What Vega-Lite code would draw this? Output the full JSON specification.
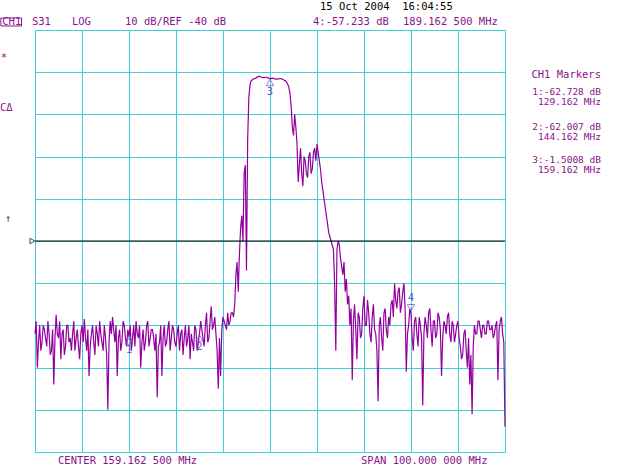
{
  "$schema": "https://vega.github.io/schema/vega-lite/v6.json",
  "width": 470,
  "height": 422,
  "autosize": {"type": "none"},
  "padding": {"left": 35, "top": 30, "right": 135, "bottom": 13},
  "background": "white",
  "config": {"view": {"stroke": "#3fd0d8", "strokeWidth": 1}, "font": "DejaVu Sans Mono", "text": {"font": "DejaVu Sans Mono", "fontSize": 10.5, "color": "#8a138a", "align": "left", "baseline": "middle"}},
  "datasets": {
    "trace": [
      {"f":109.16,"d":-62},{"f":109.41,"d":-59},{"f":109.66,"d":-70},{"f":109.91,"d":-64},
      {"f":110.16,"d":-60},{"f":110.41,"d":-66},{"f":110.66,"d":-64},{"f":110.91,"d":-60},
      {"f":111.16,"d":-61},{"f":111.41,"d":-63},{"f":111.66,"d":-65},{"f":111.91,"d":-59},
      {"f":112.16,"d":-62},{"f":112.41,"d":-67},{"f":112.66,"d":-66},{"f":112.91,"d":-61},
      {"f":113.16,"d":-74},{"f":113.41,"d":-63},{"f":113.66,"d":-57.5},{"f":113.91,"d":-62},
      {"f":114.16,"d":-63},{"f":114.41,"d":-59},{"f":114.66,"d":-68},{"f":114.91,"d":-62},
      {"f":115.16,"d":-61},{"f":115.41,"d":-67},{"f":115.66,"d":-65},{"f":115.91,"d":-60},
      {"f":116.16,"d":-60},{"f":116.41,"d":-64},{"f":116.66,"d":-63},{"f":116.91,"d":-66},
      {"f":117.16,"d":-62},{"f":117.41,"d":-59},{"f":117.66,"d":-66},{"f":117.91,"d":-63},
      {"f":118.16,"d":-61},{"f":118.41,"d":-65},{"f":118.66,"d":-68},{"f":118.91,"d":-62},
      {"f":119.16,"d":-60},{"f":119.41,"d":-64},{"f":119.66,"d":-58.5},{"f":119.91,"d":-63},
      {"f":120.16,"d":-66},{"f":120.41,"d":-61},{"f":120.66,"d":-72},{"f":120.91,"d":-65},
      {"f":121.16,"d":-62},{"f":121.41,"d":-60},{"f":121.66,"d":-64},{"f":121.91,"d":-67},
      {"f":122.16,"d":-60},{"f":122.41,"d":-62},{"f":122.66,"d":-65},{"f":122.91,"d":-59},
      {"f":123.16,"d":-62},{"f":123.41,"d":-64},{"f":123.66,"d":-66},{"f":123.91,"d":-60},
      {"f":124.16,"d":-63},{"f":124.41,"d":-67},{"f":124.66,"d":-80},{"f":124.91,"d":-64},
      {"f":125.16,"d":-59},{"f":125.41,"d":-62},{"f":125.66,"d":-58},{"f":125.91,"d":-61},
      {"f":126.16,"d":-64},{"f":126.41,"d":-60},{"f":126.66,"d":-72},{"f":126.91,"d":-63},
      {"f":127.16,"d":-61},{"f":127.41,"d":-66},{"f":127.66,"d":-64},{"f":127.91,"d":-59},
      {"f":128.16,"d":-60},{"f":128.41,"d":-63},{"f":128.66,"d":-65},{"f":128.91,"d":-61},
      {"f":129.16,"d":-62.7},{"f":129.41,"d":-60},{"f":129.66,"d":-66},{"f":129.91,"d":-63},
      {"f":130.16,"d":-60},{"f":130.41,"d":-65},{"f":130.66,"d":-59},{"f":130.91,"d":-62},
      {"f":131.16,"d":-63},{"f":131.41,"d":-60},{"f":131.66,"d":-70},{"f":131.91,"d":-64},
      {"f":132.16,"d":-61},{"f":132.41,"d":-66},{"f":132.66,"d":-64},{"f":132.91,"d":-60},
      {"f":133.16,"d":-59},{"f":133.41,"d":-65},{"f":133.66,"d":-63},{"f":133.91,"d":-61},
      {"f":134.16,"d":-61},{"f":134.41,"d":-63},{"f":134.66,"d":-66},{"f":134.91,"d":-62},
      {"f":135.16,"d":-77},{"f":135.41,"d":-65},{"f":135.66,"d":-64},{"f":135.91,"d":-60},
      {"f":136.16,"d":-72},{"f":136.41,"d":-63},{"f":136.66,"d":-60},{"f":136.91,"d":-65},
      {"f":137.16,"d":-64},{"f":137.41,"d":-61},{"f":137.66,"d":-59},{"f":137.91,"d":-66},
      {"f":138.16,"d":-63},{"f":138.41,"d":-60},{"f":138.66,"d":-61},{"f":138.91,"d":-64},
      {"f":139.16,"d":-65},{"f":139.41,"d":-62},{"f":139.66,"d":-60},{"f":139.91,"d":-66},
      {"f":140.16,"d":-62},{"f":140.41,"d":-61},{"f":140.66,"d":-67},{"f":140.91,"d":-63},
      {"f":141.16,"d":-60},{"f":141.41,"d":-65},{"f":141.66,"d":-63},{"f":141.91,"d":-60},
      {"f":142.16,"d":-68},{"f":142.41,"d":-62},{"f":142.66,"d":-64},{"f":142.91,"d":-66},
      {"f":143.16,"d":-60},{"f":143.41,"d":-61},{"f":143.66,"d":-66},{"f":143.91,"d":-64},
      {"f":144.16,"d":-62},{"f":144.41,"d":-59},{"f":144.66,"d":-61},{"f":144.91,"d":-63},
      {"f":145.16,"d":-65},{"f":145.41,"d":-60},{"f":145.66,"d":-57},{"f":145.91,"d":-64},
      {"f":146.16,"d":-63},{"f":146.41,"d":-59},{"f":146.66,"d":-55.5},{"f":146.91,"d":-61},
      {"f":147.16,"d":-60},{"f":147.41,"d":-58},{"f":147.66,"d":-62},{"f":147.91,"d":-66},
      {"f":148.16,"d":-75},{"f":148.41,"d":-63},{"f":148.66,"d":-72},{"f":148.91,"d":-61},
      {"f":149.16,"d":-58},{"f":149.41,"d":-59},{"f":149.66,"d":-60},{"f":149.91,"d":-61},
      {"f":150.16,"d":-57},{"f":150.41,"d":-60},{"f":150.66,"d":-59},{"f":150.91,"d":-57},
      {"f":151.16,"d":-57},{"f":151.41,"d":-58},{"f":151.66,"d":-55},{"f":151.91,"d":-48},
      {"f":152.16,"d":-45},{"f":152.41,"d":-52},{"f":152.66,"d":-43},{"f":152.91,"d":-37},
      {"f":153.16,"d":-34},{"f":153.41,"d":-40},{"f":153.66,"d":-24},{"f":153.91,"d":-22},
      {"f":154.16,"d":-47},{"f":154.41,"d":-16},{"f":154.66,"d":-6},{"f":154.91,"d":-3},
      {"f":155.16,"d":-2},{"f":155.41,"d":-1.8},{"f":155.66,"d":-1.6},{"f":155.91,"d":-1.5},
      {"f":156.16,"d":-1.4},{"f":156.41,"d":-1.2},{"f":156.66,"d":-1.0},{"f":156.91,"d":-1.0},
      {"f":157.16,"d":-1.1},{"f":157.41,"d":-1.2},{"f":157.66,"d":-1.3},{"f":157.91,"d":-1.3},
      {"f":158.16,"d":-1.2},{"f":158.41,"d":-1.2},{"f":158.66,"d":-1.3},{"f":158.91,"d":-1.4},
      {"f":159.16,"d":-1.5},{"f":159.41,"d":-1.5},{"f":159.66,"d":-1.4},{"f":159.91,"d":-1.5},
      {"f":160.16,"d":-1.6},{"f":160.41,"d":-1.6},{"f":160.66,"d":-1.7},{"f":160.91,"d":-1.6},
      {"f":161.16,"d":-1.5},{"f":161.41,"d":-1.5},{"f":161.66,"d":-1.6},{"f":161.91,"d":-1.7},
      {"f":162.16,"d":-1.9},{"f":162.41,"d":-2.0},{"f":162.66,"d":-2.3},{"f":162.91,"d":-2.8},
      {"f":163.16,"d":-3.5},{"f":163.41,"d":-5},{"f":163.66,"d":-8},{"f":163.91,"d":-13},
      {"f":164.16,"d":-15},{"f":164.41,"d":-10},{"f":164.66,"d":-13},{"f":164.91,"d":-17},
      {"f":165.16,"d":-26},{"f":165.41,"d":-22},{"f":165.66,"d":-18},{"f":165.91,"d":-24},
      {"f":166.16,"d":-27},{"f":166.41,"d":-20},{"f":166.66,"d":-21},{"f":166.91,"d":-24},
      {"f":167.16,"d":-25},{"f":167.41,"d":-20},{"f":167.66,"d":-19},{"f":167.91,"d":-24},
      {"f":168.16,"d":-23},{"f":168.41,"d":-19},{"f":168.66,"d":-18},{"f":168.91,"d":-21},
      {"f":169.16,"d":-17},{"f":169.41,"d":-19},{"f":169.66,"d":-21},{"f":169.91,"d":-23},
      {"f":170.16,"d":-26},{"f":170.41,"d":-28},{"f":170.66,"d":-30},{"f":170.91,"d":-32},
      {"f":171.16,"d":-34},{"f":171.41,"d":-36},{"f":171.66,"d":-38},{"f":171.91,"d":-39},
      {"f":172.16,"d":-40},{"f":172.41,"d":-41},{"f":172.66,"d":-42},{"f":172.91,"d":-50},
      {"f":173.16,"d":-66},{"f":173.41,"d":-42},{"f":173.66,"d":-40},{"f":173.91,"d":-41},
      {"f":174.16,"d":-44},{"f":174.41,"d":-46},{"f":174.66,"d":-48},{"f":174.91,"d":-45},
      {"f":175.16,"d":-52},{"f":175.41,"d":-49},{"f":175.66,"d":-55},{"f":175.91,"d":-53},
      {"f":176.16,"d":-60},{"f":176.41,"d":-56},{"f":176.66,"d":-73},{"f":176.91,"d":-59},
      {"f":177.16,"d":-55},{"f":177.41,"d":-61},{"f":177.66,"d":-68},{"f":177.91,"d":-57},
      {"f":178.16,"d":-58},{"f":178.41,"d":-63},{"f":178.66,"d":-62},{"f":178.91,"d":-56},
      {"f":179.16,"d":-53},{"f":179.41,"d":-60},{"f":179.66,"d":-60},{"f":179.91,"d":-54},
      {"f":180.16,"d":-57},{"f":180.41,"d":-62},{"f":180.66,"d":-64},{"f":180.91,"d":-58},
      {"f":181.16,"d":-55},{"f":181.41,"d":-61},{"f":181.66,"d":-62},{"f":181.91,"d":-66},
      {"f":182.16,"d":-78},{"f":182.41,"d":-60},{"f":182.66,"d":-58},{"f":182.91,"d":-63},
      {"f":183.16,"d":-66},{"f":183.41,"d":-57},{"f":183.66,"d":-56},{"f":183.91,"d":-61},
      {"f":184.16,"d":-63},{"f":184.41,"d":-58},{"f":184.66,"d":-60},{"f":184.91,"d":-55},
      {"f":185.16,"d":-54},{"f":185.41,"d":-58},{"f":185.66,"d":-50},{"f":185.91,"d":-54},
      {"f":186.16,"d":-56},{"f":186.41,"d":-52},{"f":186.66,"d":-51},{"f":186.91,"d":-57},
      {"f":187.16,"d":-55},{"f":187.41,"d":-52},{"f":187.66,"d":-50},{"f":187.91,"d":-56},
      {"f":188.16,"d":-71},{"f":188.41,"d":-62},{"f":188.66,"d":-60},{"f":188.91,"d":-56},
      {"f":189.16,"d":-57.2},{"f":189.41,"d":-63},{"f":189.66,"d":-66},{"f":189.91,"d":-59},
      {"f":190.16,"d":-58},{"f":190.41,"d":-62},{"f":190.66,"d":-65},{"f":190.91,"d":-58},
      {"f":191.16,"d":-60},{"f":191.41,"d":-63},{"f":191.66,"d":-79},{"f":191.91,"d":-62},
      {"f":192.16,"d":-58},{"f":192.41,"d":-60},{"f":192.66,"d":-63},{"f":192.91,"d":-57},
      {"f":193.16,"d":-56},{"f":193.41,"d":-61},{"f":193.66,"d":-65},{"f":193.91,"d":-59},
      {"f":194.16,"d":-59},{"f":194.41,"d":-63},{"f":194.66,"d":-62},{"f":194.91,"d":-57},
      {"f":195.16,"d":-58},{"f":195.41,"d":-61},{"f":195.66,"d":-72},{"f":195.91,"d":-63},
      {"f":196.16,"d":-59},{"f":196.41,"d":-60},{"f":196.66,"d":-62},{"f":196.91,"d":-58},
      {"f":197.16,"d":-57},{"f":197.41,"d":-62},{"f":197.66,"d":-64},{"f":197.91,"d":-59},
      {"f":198.16,"d":-60},{"f":198.41,"d":-64},{"f":198.66,"d":-62},{"f":198.91,"d":-60},
      {"f":199.16,"d":-59},{"f":199.41,"d":-63},{"f":199.66,"d":-65},{"f":199.91,"d":-68},
      {"f":200.16,"d":-67},{"f":200.41,"d":-62},{"f":200.66,"d":-61},{"f":200.91,"d":-66},
      {"f":201.16,"d":-70},{"f":201.41,"d":-63},{"f":201.66,"d":-74},{"f":201.91,"d":-67},
      {"f":202.16,"d":-81},{"f":202.41,"d":-65},{"f":202.66,"d":-60},{"f":202.91,"d":-62},
      {"f":203.16,"d":-62},{"f":203.41,"d":-59},{"f":203.66,"d":-59},{"f":203.91,"d":-61},
      {"f":204.16,"d":-63},{"f":204.41,"d":-60},{"f":204.66,"d":-60},{"f":204.91,"d":-62},
      {"f":205.16,"d":-62},{"f":205.41,"d":-59},{"f":205.66,"d":-59},{"f":205.91,"d":-61},
      {"f":206.16,"d":-61},{"f":206.41,"d":-60},{"f":206.66,"d":-63},{"f":206.91,"d":-62},
      {"f":207.16,"d":-60},{"f":207.41,"d":-59},{"f":207.66,"d":-73},{"f":207.91,"d":-61},
      {"f":208.16,"d":-59},{"f":208.41,"d":-58},{"f":208.66,"d":-62},{"f":208.91,"d":-64},
      {"f":209.16,"d":-84}
    ],
    "markers": [
      {"m":"1","f":129.1625,"d":-62.728},
      {"m":"2","f":144.1625,"d":-62.007},
      {"m":"3","f":159.1625,"d":-1.5008},
      {"m":"4","f":189.1625,"d":-57.233}
    ]
  },
  "layer": [
    {
      "data": {"name": "trace"},
      "mark": {"type": "line", "color": "#9400a0", "strokeWidth": 1.2},
      "encoding": {
        "x": {"field": "f", "type": "quantitative", "scale": {"domain": [109.1625, 209.1625], "nice": false, "zero": false},
              "axis": {"values": [109.1625,119.1625,129.1625,139.1625,149.1625,159.1625,169.1625,179.1625,189.1625,199.1625,209.1625], "grid": true, "gridColor": "#3fd0d8", "gridOpacity": 1, "labels": false, "ticks": false, "domain": false, "title": null}},
        "y": {"field": "d", "type": "quantitative", "scale": {"domain": [-90, 10], "nice": false, "zero": false},
              "axis": {"values": [-90,-80,-70,-60,-50,-40,-30,-20,-10,0,10], "grid": true, "gridColor": "#3fd0d8", "gridOpacity": 1, "labels": false, "ticks": false, "domain": false, "title": null}}
      }
    },
    {
      "data": {"values": [{}]},
      "mark": {"type": "rule", "color": "black", "strokeWidth": 1},
      "encoding": {"y": {"datum": -40}}
    },
    {
      "data": {"values": [{}]},
      "mark": {"type": "point", "shape": "triangle-right", "filled": false, "color": "black", "size": 30, "strokeWidth": 1},
      "encoding": {"x": {"datum": 108.6}, "y": {"datum": -40}}
    },
    {
      "data": {"name": "markers"},
      "transform": [{"filter": "datum.m != '4'"}],
      "layer": [
        {"mark": {"type": "point", "shape": "triangle-up", "filled": false, "color": "#6a4fc0", "size": 55, "strokeWidth": 1, "yOffset": 4},
         "encoding": {"x": {"field": "f", "type": "quantitative"}, "y": {"field": "d", "type": "quantitative"}}},
        {"mark": {"type": "text", "color": "#6a4fc0", "align": "center", "fontSize": 10, "yOffset": 13},
         "encoding": {"x": {"field": "f", "type": "quantitative"}, "y": {"field": "d", "type": "quantitative"}, "text": {"field": "m"}}}
      ]
    },
    {
      "data": {"name": "markers"},
      "transform": [{"filter": "datum.m == '4'"}],
      "layer": [
        {"mark": {"type": "point", "shape": "triangle-down", "filled": false, "color": "#6a4fc0", "size": 55, "strokeWidth": 1, "yOffset": -6},
         "encoding": {"x": {"field": "f", "type": "quantitative"}, "y": {"field": "d", "type": "quantitative"}}},
        {"mark": {"type": "text", "color": "#6a4fc0", "align": "center", "fontSize": 10, "yOffset": -16},
         "encoding": {"x": {"field": "f", "type": "quantitative"}, "y": {"field": "d", "type": "quantitative"}, "text": {"field": "m"}}}
      ]
    },
    {
      "data": {"values": [{}]},
      "mark": {"type": "rect", "fill": null, "fillOpacity": 0, "stroke": "#8a138a", "strokeWidth": 1},
      "encoding": {"x": {"datum": 101.9}, "x2": {"datum": 106.3}, "y": {"datum": 12.84}, "y2": {"datum": 10.95}}
    },
    {"data": {"values": [{}]}, "mark": {"type": "text"}, "encoding": {"x": {"datum": 102.2}, "y": {"datum": 11.9}, "text": {"value": "CH1"}}},
    {"data": {"values": [{}]}, "mark": {"type": "text"}, "encoding": {"x": {"datum": 108.52}, "y": {"datum": 11.9}, "text": {"value": "S31"}}},
    {"data": {"values": [{}]}, "mark": {"type": "text"}, "encoding": {"x": {"datum": 117.03}, "y": {"datum": 11.9}, "text": {"value": "LOG"}}},
    {"data": {"values": [{}]}, "mark": {"type": "text"}, "encoding": {"x": {"datum": 128.31}, "y": {"datum": 11.9}, "text": {"value": "10 dB/REF -40 dB"}}},
    {"data": {"values": [{}]}, "mark": {"type": "text"}, "encoding": {"x": {"datum": 168.31}, "y": {"datum": 11.9}, "text": {"value": "4:-57.233 dB"}}},
    {"data": {"values": [{}]}, "mark": {"type": "text"}, "encoding": {"x": {"datum": 187.46}, "y": {"datum": 11.9}, "text": {"value": "189.162 500 MHz"}}},
    {"data": {"values": [{}]}, "mark": {"type": "text", "color": "black"}, "encoding": {"x": {"datum": 169.8}, "y": {"datum": 15.5}, "text": {"value": "15 Oct 2004\u00a0\u00a016:04:55"}}},
    {"data": {"values": [{}]}, "mark": {"type": "text"}, "encoding": {"x": {"datum": 101.9}, "y": {"datum": 3.37}, "text": {"value": "*"}}},
    {"data": {"values": [{}]}, "mark": {"type": "text"}, "encoding": {"x": {"datum": 101.71}, "y": {"datum": -8.48}, "text": {"value": "CΔ"}}},
    {"data": {"values": [{}]}, "mark": {"type": "text", "align": "center"}, "encoding": {"x": {"datum": 103.41}, "y": {"datum": -34.79}, "text": {"value": "↑"}}},
    {"data": {"values": [{}]}, "mark": {"type": "text", "align": "right"}, "encoding": {"x": {"datum": 229.59}, "y": {"datum": -0.66}, "text": {"value": "CH1 Markers"}}},
    {"data": {"values": [{}]}, "mark": {"type": "text", "align": "right", "fontSize": 9.5, "lineHeight": 9.5},
     "encoding": {"x": {"datum": 229.59}, "y": {"datum": -4.69}, "text": {"value": "1:-62.728 dB"}}},
    {"data": {"values": [{}]}, "mark": {"type": "text", "align": "right", "fontSize": 9.5, "lineHeight": 9.5},
     "encoding": {"x": {"datum": 229.59}, "y": {"datum": -6.95}, "text": {"value": "129.162 MHz"}}},
    {"data": {"values": [{}]}, "mark": {"type": "text", "align": "right", "fontSize": 9.5, "lineHeight": 9.5},
     "encoding": {"x": {"datum": 229.59}, "y": {"datum": -12.99}, "text": {"value": "2:-62.007 dB"}}},
    {"data": {"values": [{}]}, "mark": {"type": "text", "align": "right", "fontSize": 9.5, "lineHeight": 9.5},
     "encoding": {"x": {"datum": 229.59}, "y": {"datum": -15.25}, "text": {"value": "144.162 MHz"}}},
    {"data": {"values": [{}]}, "mark": {"type": "text", "align": "right", "fontSize": 9.5, "lineHeight": 9.5},
     "encoding": {"x": {"datum": 229.59}, "y": {"datum": -20.8}, "text": {"value": "3:-1.5008 dB"}}},
    {"data": {"values": [{}]}, "mark": {"type": "text", "align": "right", "fontSize": 9.5, "lineHeight": 9.5},
     "encoding": {"x": {"datum": 229.59}, "y": {"datum": -23.06}, "text": {"value": "159.162 MHz"}}},
    {"data": {"values": [{}]}, "mark": {"type": "text"}, "encoding": {"x": {"datum": 114.06}, "y": {"datum": -92.1}, "text": {"value": "CENTER 159.162 500 MHz"}}},
    {"data": {"values": [{}]}, "mark": {"type": "text"}, "encoding": {"x": {"datum": 178.53}, "y": {"datum": -92.1}, "text": {"value": "SPAN 100.000 000 MHz"}}}
  ]
}
